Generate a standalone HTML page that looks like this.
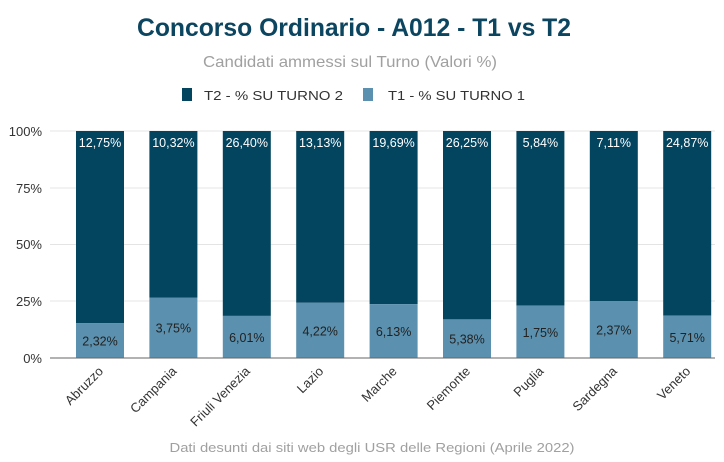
<!DOCTYPE html>
<html><head><meta charset="utf-8"><style>
body{margin:0;background:#fff;}
svg{display:block;font-family:"Liberation Sans",Arial,sans-serif;}
</style></head><body>
<svg width="724" height="462" viewBox="0 0 724 462">
<text x="354" y="36" text-anchor="middle" font-size="25" font-weight="bold" fill="#0b4560" textLength="434" lengthAdjust="spacingAndGlyphs">Concorso Ordinario - A012  - T1 vs T2</text>
<text x="350" y="67" text-anchor="middle" font-size="16" fill="#a0a0a0" textLength="294" lengthAdjust="spacingAndGlyphs">Candidati ammessi sul Turno (Valori %)</text>
<rect x="182" y="88" width="10" height="13" fill="#03445f"/>
<text x="204" y="100" font-size="13" fill="#333" textLength="139" lengthAdjust="spacingAndGlyphs">T2 - % SU TURNO 2</text>
<rect x="363" y="88" width="10" height="13" fill="#5b90ae"/>
<text x="388" y="100" font-size="13" fill="#333" textLength="137" lengthAdjust="spacingAndGlyphs">T1 - % SU TURNO 1</text>
<g stroke="#e4e4e4" stroke-width="1">
<line x1="50" x2="715" y1="131" y2="131"/><line x1="50" x2="715" y1="188" y2="188"/><line x1="50" x2="715" y1="244.5" y2="244.5"/><line x1="50" x2="715" y1="301" y2="301"/>
</g>
<g font-size="13" fill="#333" text-anchor="end">
<text x="42" y="136">100%</text><text x="42" y="193">75%</text><text x="42" y="249">50%</text><text x="42" y="306">25%</text><text x="42" y="363">0%</text>
</g>
<g id="bars" font-size="12.5" text-anchor="middle"></g>
<line x1="50" x2="715" y1="358" y2="358" stroke="#666" stroke-width="1"/>
<g font-size="13" fill="#333" text-anchor="end" id="xl"></g>
<text x="372" y="452" text-anchor="middle" font-size="13" fill="#a0a0a0" textLength="405" lengthAdjust="spacingAndGlyphs">Dati desunti dai siti web degli USR delle Regioni (Aprile 2022)</text>
</svg>
<script>
var d=[["Abruzzo","12,75%","2,32%",2.32,12.75],["Campania","10,32%","3,75%",3.75,10.32],["Friuli Venezia","26,40%","6,01%",6.01,26.40],["Lazio","13,13%","4,22%",4.22,13.13],["Marche","19,69%","6,13%",6.13,19.69],["Piemonte","26,25%","5,38%",5.38,26.25],["Puglia","5,84%","1,75%",1.75,5.84],["Sardegna","7,11%","2,37%",2.37,7.11],["Veneto","24,87%","5,71%",5.71,24.87]];
var ns="http://www.w3.org/2000/svg",g=document.getElementById("bars"),xl=document.getElementById("xl");
function el(p,t,a,txt){var e=document.createElementNS(ns,t);for(var k in a)e.setAttribute(k,a[k]);if(txt)e.textContent=txt;p.appendChild(e);return e;}
d.forEach(function(r,i){var cx=100+i*73.4,top=131,bot=358,H=bot-top;var h1=H*r[3]/(r[3]+r[4]);var y1=bot-h1;
el(g,"rect",{x:cx-24,y:top,width:48,height:y1-top,fill:"#03445f"});
el(g,"rect",{x:cx-24,y:y1,width:48,height:h1,fill:"#5b90ae"});
el(g,"text",{x:cx,y:top+16,fill:"#fff"},r[1]);
el(g,"text",{x:cx,y:y1+h1/2+5,fill:"#222"},r[2]);
el(xl,"text",{x:cx+4,y:372,transform:"rotate(-45 "+(cx+4)+" 372)"},r[0]);
});
</script>
</body></html>
